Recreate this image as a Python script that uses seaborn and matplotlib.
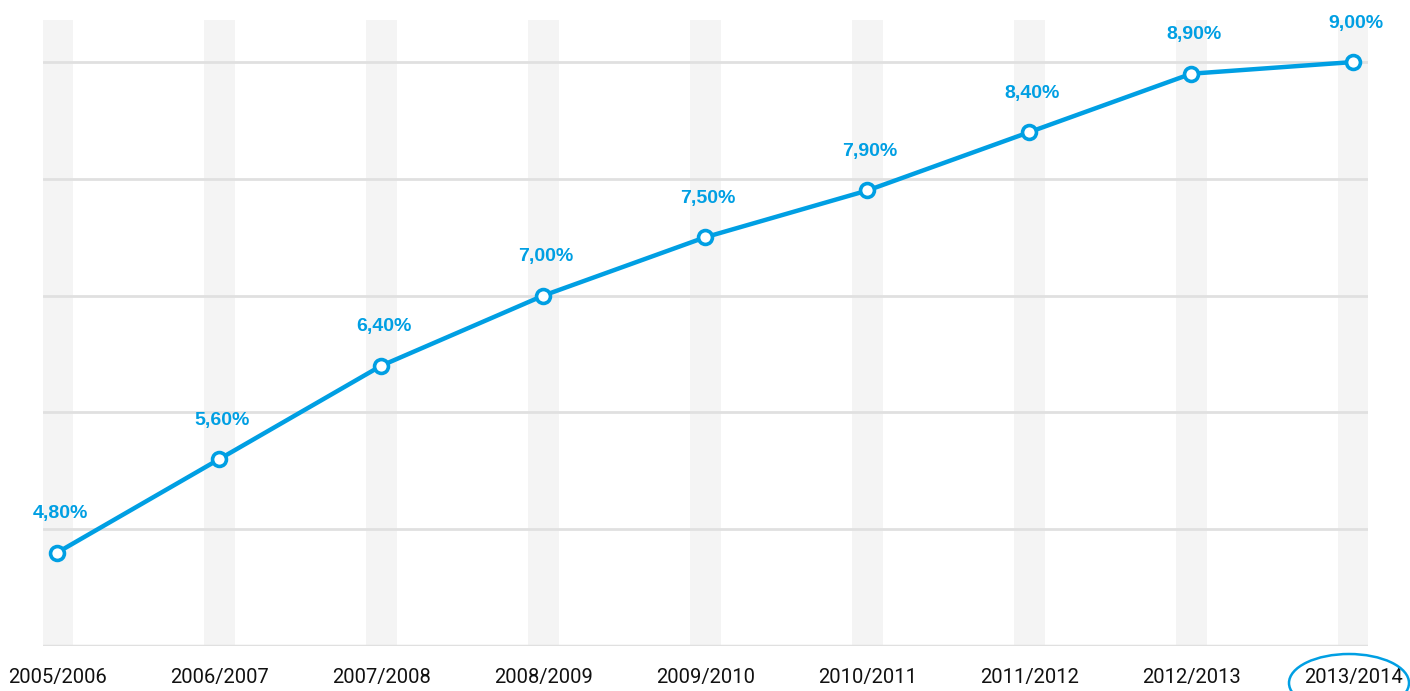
import matplotlib
matplotlib.use("Agg")
import matplotlib.pyplot as plt
import seaborn as sns
import pandas as pd
from matplotlib.patches import Ellipse

# data
seasons = ['2005/2006', '2006/2007', '2007/2008', '2008/2009', '2009/2010',
           '2010/2011', '2011/2012', '2012/2013', '2013/2014']
share = [4.80, 5.60, 6.40, 7.00, 7.50, 7.90, 8.40, 8.90, 9.00]
labels = ['4,80%', '5,60%', '6,40%', '7,00%', '7,50%', '7,90%', '8,40%', '8,90%', '9,00%']
grid_levels = [5, 6, 7, 8, 9]

blue = '#009fe3'

df = pd.DataFrame({'pos': range(len(seasons)), 'season': seasons, 'share': share})

sns.set_theme(style="white")
fig = plt.figure(figsize=(14.1, 6.91), dpi=100)
ax = fig.add_axes([0.0305, 0.0651, 0.9395, 0.906])

# light vertical bands behind each season
for p in df['pos']:
    ax.axvspan(p - 0.095, p + 0.095, color='#f4f4f4', zorder=0, lw=0)

for g in grid_levels:
    ax.axhline(g, color='#e0e0e0', lw=2, zorder=1)
ax.axhline(4, color='#e0e0e0', lw=2.5, zorder=1)

sns.lineplot(data=df, x='pos', y='share', color=blue, lw=3.2, marker='o',
             markersize=10, markerfacecolor='white', markeredgecolor=blue,
             markeredgewidth=2.6, ax=ax, zorder=3)

for p, v, lab in zip(df['pos'], share, labels):
    ax.annotate(lab, (p, v), xytext=(2, 28), textcoords='offset points',
                ha='center', va='center', color=blue, fontsize=14,
                fontweight='bold', family='Liberation Sans')

ax.set_xlim(-0.088, 8.088)
ax.set_ylim(4, 9.36)
ax.set_xticks(list(df['pos']))
ax.set_xticklabels(seasons, family='Roboto', fontsize=14.5, color='#111111')
ax.tick_params(axis='x', length=0, pad=16)
ax.set_yticks([])
ax.set_xlabel('')
ax.set_ylabel('')
for s in ax.spines.values():
    s.set_visible(False)

# circle around the last season label
fig.patches.append(Ellipse((1349 / 1410, (691 - 683) / 691), 120 / 1410, 58 / 691,
                           transform=fig.transFigure, fill=False,
                           edgecolor=blue, lw=1.8))

fig.savefig('out.png', dpi=100)
